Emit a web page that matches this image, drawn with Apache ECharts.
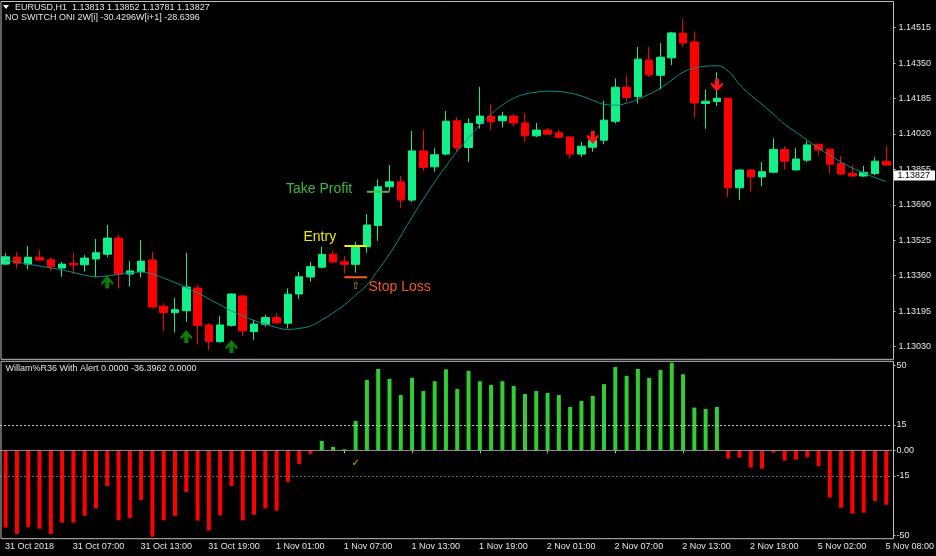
<!DOCTYPE html>
<html>
<head>
<meta charset="utf-8">
<script src="https://cdn.jsdelivr.net/npm/echarts@6/dist/echarts.min.js"></script>
<style>
html, body { margin: 0; padding: 0; background: #000; }
#chart { width: 936px; height: 556px; }
</style>
</head>
<body>
<div id="chart"></div>
<script>
// time axis: hourly bars, weekend gap between 2 Nov and 5 Nov
var days = [['31 Oct', 1, 23], ['1 Nov', 0, 23], ['2 Nov', 0, 23], ['5 Nov', 1, 8]];
var times = [];
days.forEach(function (d) {
    for (var h = d[1]; h <= d[2]; h++) {
        times.push(d[0] + ' ' + (h < 10 ? '0' + h : h) + ':00');
    }
});

var opens = [1.13414, 1.13446, 1.13414, 1.13446, 1.13434, 1.13396, 1.13418, 1.13411, 1.13438, 1.13460,
    1.13535, 1.13368, 1.13379, 1.13433, 1.13218, 1.13188, 1.13197, 1.13303, 1.13131, 1.13053,
    1.13129, 1.13266, 1.13100, 1.13134, 1.13165, 1.13139, 1.13275, 1.13354, 1.13400, 1.13460,
    1.13425, 1.13413, 1.13495, 1.13594, 1.13774, 1.13797, 1.13712, 1.13941, 1.13867, 1.13926,
    1.14081, 1.13957, 1.14069, 1.14103, 1.14081, 1.14103, 1.14071, 1.14011, 1.14038, 1.14025,
    1.14006, 1.13926, 1.13958, 1.13991, 1.14079, 1.14237, 1.14194, 1.14364, 1.14293, 1.14374,
    1.14489, 1.14448, 1.14162, 1.14171, 1.14186, 1.13769, 1.13852, 1.13820, 1.13842, 1.13948,
    1.13852, 1.13898, 1.13972, 1.13949, 1.13883, 1.13836, 1.13824, 1.13836, 1.13893];
var closes = [1.13448, 1.13418, 1.13446, 1.13433, 1.13402, 1.13414, 1.13411, 1.13442, 1.13467, 1.13535,
    1.13368, 1.13382, 1.13428, 1.13214, 1.13188, 1.13202, 1.13307, 1.13129, 1.13053, 1.13131,
    1.13275, 1.13104, 1.13135, 1.13165, 1.13141, 1.13274, 1.13355, 1.13402, 1.13459, 1.13424,
    1.13413, 1.13495, 1.13596, 1.13774, 1.13797, 1.13712, 1.13941, 1.13864, 1.13923, 1.14079,
    1.13955, 1.14069, 1.14103, 1.14076, 1.14103, 1.14071, 1.14011, 1.14038, 1.14019, 1.14004,
    1.13926, 1.13963, 1.13991, 1.14084, 1.14237, 1.14190, 1.14368, 1.14295, 1.14377, 1.14490,
    1.14443, 1.14164, 1.14172, 1.14186, 1.13769, 1.13852, 1.13820, 1.13844, 1.13948, 1.13893,
    1.13903, 1.13969, 1.13945, 1.13879, 1.13833, 1.13824, 1.13841, 1.13893, 1.13875];
var lows = [1.13410, 1.13393, 1.13390, 1.13428, 1.13382, 1.13355, 1.13368, 1.13379, 1.13353, 1.13446,
    1.13300, 1.13309, 1.13351, 1.13208, 1.13104, 1.13095, 1.13145, 1.13042, 1.13015, 1.13048,
    1.13123, 1.13080, 1.13061, 1.13123, 1.13135, 1.13115, 1.13252, 1.13332, 1.13394, 1.13418,
    1.13371, 1.13374, 1.13467, 1.13523, 1.13754, 1.13676, 1.13703, 1.13848, 1.13844, 1.13920,
    1.13937, 1.13890, 1.14045, 1.14038, 1.14050, 1.14056, 1.13983, 1.14006, 1.14014, 1.13999,
    1.13906, 1.13913, 1.13937, 1.13972, 1.14069, 1.14169, 1.14162, 1.14285, 1.14227, 1.14340,
    1.14425, 1.14097, 1.14044, 1.14149, 1.13725, 1.13712, 1.13751, 1.13777, 1.13836, 1.13855,
    1.13852, 1.13889, 1.13921, 1.13836, 1.13828, 1.13820, 1.13820, 1.13828, 1.13875];
var highs = [1.13466, 1.13469, 1.13498, 1.13480, 1.13446, 1.13425, 1.13467, 1.13456, 1.13531, 1.13596,
    1.13549, 1.13428, 1.13526, 1.13472, 1.13232, 1.13256, 1.13467, 1.13317, 1.13139, 1.13173,
    1.13278, 1.13270, 1.13154, 1.13177, 1.13185, 1.13301, 1.13379, 1.13425, 1.13495, 1.13476,
    1.13452, 1.13518, 1.13647, 1.13808, 1.13875, 1.13824, 1.14034, 1.14038, 1.13955, 1.14127,
    1.14099, 1.14092, 1.14239, 1.14158, 1.14123, 1.14112, 1.14118, 1.14071, 1.14048, 1.14038,
    1.14010, 1.13983, 1.14019, 1.14174, 1.14278, 1.14293, 1.14425, 1.14425, 1.14443, 1.14495,
    1.14554, 1.14498, 1.14227, 1.14307, 1.14186, 1.13855, 1.13855, 1.13889, 1.14000, 1.13963,
    1.13954, 1.13988, 1.13972, 1.13949, 1.13917, 1.13875, 1.13871, 1.13913, 1.13963];

// smoothed moving average (teal line)
var maValues = [1.13433, 1.13424, 1.13414, 1.13405, 1.13396, 1.13387, 1.13375, 1.13363, 1.13355, 1.13359,
    1.13366, 1.13373, 1.13377, 1.13368, 1.13349, 1.13328, 1.13305, 1.13280, 1.13252, 1.13224,
    1.13196, 1.13173, 1.13152, 1.13135, 1.13119, 1.13110, 1.13115, 1.13126, 1.13154, 1.13187,
    1.13224, 1.13270, 1.13317, 1.13387, 1.13461, 1.13545, 1.13633, 1.13717, 1.13796, 1.13870,
    1.13940, 1.14000, 1.14061, 1.14112, 1.14154, 1.14186, 1.14205, 1.14214, 1.14219, 1.14217,
    1.14210, 1.14196, 1.14177, 1.14158, 1.14154, 1.14163, 1.14182, 1.14205, 1.14233, 1.14270,
    1.14307, 1.14326, 1.14335, 1.14337, 1.14312, 1.14251, 1.14200, 1.14158, 1.14112, 1.14065,
    1.14028, 1.13991, 1.13954, 1.13921, 1.13889, 1.13861, 1.13838, 1.13817, 1.13798];

// Williams %R histogram
var wprValues = [-45.5, -49.2, -45.1, -46.1, -49.2, -42.6, -42.6, -38.5, -34.2, -21.0,
    -41.2, -39.8, -29.2, -50.8, -41.2, -38.6, -24.5, -41.4, -47.2, -38.3,
    -21.0, -41.2, -37.9, -34.2, -35.5, -18.6, -8.2, -2.1, 5.5, 2.0,
    0.6, 17.3, 41.3, 47.8, 42.0, 32.5, 42.6, 34.8, 40.6, 47.6,
    36.0, 46.7, 40.6, 38.4, 40.6, 37.8, 33.1, 34.8, 33.7, 32.5,
    25.5, 29.0, 31.9, 38.9, 49.0, 43.8, 47.8, 42.6, 47.2, 51.5,
    44.7, 25.1, 24.3, 25.5, -4.9, -4.3, -10.2, -10.8, -1.4, -6.1,
    -5.5, -4.1, -9.4, -27.8, -33.8, -37.3, -36.7, -29.8, -32.0];

var upArrows = [[9, 1.13331], [16, 1.13077], [20, 1.13031]];
var downArrows = [[52, 1.14003], [63, 1.14247]];
var entryLine = [[30, 1.13498], [32, 1.13498]];
var takeProfitLine = [[32, 1.13751], [34, 1.13751]];
var stopLossLine = [[30, 1.13353], [32, 1.13353]];
var entryMark = [[31, 1.13310]];
var alertMark = [[31, -7.7]];

var priceTicks = [1.13030, 1.13195, 1.13360, 1.13525, 1.13690, 1.13855, 1.14020, 1.14185, 1.14350, 1.14515];
var wprTicks = [-50, -15, 0, 15, 50];
var lastPrice = 1.13827;

var FONT = '"Liberation Sans", Arial, sans-serif';
var BULL = '#12f08a', BEAR = '#ff0000', FRAME = '#c0c0c0', TXT = '#e6e6e6';

var candles = opens.map(function (o, i) { return [o, closes[i], lows[i], highs[i]]; });

var chart = echarts.init(document.getElementById('chart'));

var option = {
    backgroundColor: '#000',
    animation: false,
    grid: [
        {left: -3.2, right: 44.1, top: 2, height: 357.3},
        {left: -3.2, right: 44.1, top: 361.5, height: 177.2}
    ],
    xAxis: [
        {
            type: 'category', gridIndex: 0, data: times,
            axisLine: {show: false}, axisTick: {show: false}, axisLabel: {show: false}
        },
        {
            type: 'category', gridIndex: 1, data: times,
            axisLine: {show: false},
            axisTick: {show: true, interval: 5, alignWithLabel: true, length: 3, lineStyle: {color: FRAME}},
            axisLabel: {show: false, interval: 5}
        }
    ],
    yAxis: [
        {
            type: 'value', gridIndex: 0, position: 'right', offset: 1.6,
            min: 1.12971, max: 1.14634, scale: true,
            splitLine: {show: false}, axisLine: {show: false},
            axisTick: {show: true, length: 2, customValues: priceTicks, lineStyle: {color: FRAME}},
            axisLabel: {
                customValues: priceTicks, margin: 5, color: TXT, fontSize: 9, fontFamily: FONT,
                formatter: function (v) { return v.toFixed(5); }
            }
        },
        {
            type: 'value', gridIndex: 1, position: 'right', offset: 1.6,
            min: -52, max: 52.2,
            splitLine: {show: false}, axisLine: {show: false},
            axisTick: {show: true, length: 2, customValues: wprTicks, lineStyle: {color: FRAME}},
            axisLabel: {
                customValues: wprTicks, margin: 3, color: TXT, fontSize: 9, fontFamily: FONT,
                formatter: function (v) { return v === 0 ? '0.00' : String(v); }
            }
        }
    ],
    series: [
        {
            type: 'candlestick', xAxisIndex: 0, yAxisIndex: 0,
            data: candles, barWidth: 8,
            itemStyle: {color: BULL, color0: BEAR, borderColor: BULL, borderColor0: BEAR, borderWidth: 1}
        },
        {
            type: 'line', xAxisIndex: 0, yAxisIndex: 0, data: maValues,
            smooth: true, symbol: 'none', z: 3,
            lineStyle: {color: '#0d8f8f', width: 1}
        },
        {
            type: 'scatter', xAxisIndex: 0, yAxisIndex: 0, data: upArrows,
            symbol: 'path://M6,0 L12,7 L12,9.5 L8,6.5 L8,13 L4,13 L4,6.5 L0,9.5 L0,7 Z',
            symbolSize: [12, 13], itemStyle: {color: '#0b7d0b', opacity: 1}, z: 4
        },
        {
            type: 'scatter', xAxisIndex: 0, yAxisIndex: 0, data: downArrows,
            symbol: 'path://M6,13 L12,6 L12,3.5 L8,6.5 L8,0 L4,0 L4,6.5 L0,3.5 L0,6 Z',
            symbolSize: [12, 13], itemStyle: {color: '#ff1414', opacity: 1}, z: 4
        },
        {
            type: 'line', xAxisIndex: 0, yAxisIndex: 0, data: entryLine,
            symbol: 'none', lineStyle: {color: '#f2f200', width: 2}, z: 5
        },
        {
            type: 'line', xAxisIndex: 0, yAxisIndex: 0, data: takeProfitLine,
            symbol: 'none', lineStyle: {color: '#56b84a', width: 2}, z: 5
        },
        {
            type: 'line', xAxisIndex: 0, yAxisIndex: 0, data: stopLossLine,
            symbol: 'none', lineStyle: {color: '#ff5a1e', width: 2}, z: 5
        },
        {
            type: 'scatter', xAxisIndex: 0, yAxisIndex: 0, data: entryMark,
            symbolSize: 1, itemStyle: {color: 'rgba(0,0,0,0)'},
            label: {show: true, position: 'inside', formatter: '\u21e7', color: '#e8c800',
                fontSize: 10, fontFamily: '"DejaVu Sans"'}
        },
        {
            type: 'bar', xAxisIndex: 1, yAxisIndex: 1, data: wprValues, barWidth: 4,
            itemStyle: {
                color: function (p) { return p.value >= 0 ? '#32cd32' : '#ff0000'; }
            },
            markLine: {
                silent: true, symbol: 'none', label: {show: false},
                data: [
                    {yAxis: 15, lineStyle: {type: [2, 2], color: '#c8c8c8', width: 1}},
                    {yAxis: 0, lineStyle: {type: 'solid', color: '#8c8c8c', width: 1}},
                    {yAxis: -15, lineStyle: {type: [2, 2], color: '#6a6a6a', width: 1}}
                ]
            }
        },
        {
            type: 'scatter', xAxisIndex: 1, yAxisIndex: 1, data: alertMark,
            symbolSize: 1, itemStyle: {color: 'rgba(0,0,0,0)'},
            label: {show: true, position: 'inside', formatter: '\u2713', color: '#e8e800',
                fontSize: 10, fontFamily: '"DejaVu Sans"'}
        }
    ]
};

chart.setOption(option);

// frames, headers, annotations, last price tag, time labels
var priceY = chart.convertToPixel({yAxisIndex: 0}, lastPrice);
var graphics = [
    {type: 'rect', shape: {x: 1, y: 1.5, width: 892.5, height: 357.8}, style: {fill: null, stroke: FRAME, lineWidth: 1}, z: 100},
    {type: 'rect', shape: {x: 1, y: 361.3, width: 892.5, height: 177.4}, style: {fill: null, stroke: FRAME, lineWidth: 1}, z: 100},
    {type: 'polygon', shape: {points: [[3, 5], [9, 5], [6, 9]]}, style: {fill: '#ffffff'}, z: 100},
    {type: 'text', x: 15, y: 7.5, style: {text: 'EURUSD,H1  1.13813 1.13852 1.13781 1.13827', fill: TXT, font: '9px ' + FONT, verticalAlign: 'middle'}, z: 100},
    {type: 'text', x: 5, y: 17.5, style: {text: 'NO SWITCH ONI 2W[i] -30.4296W[i+1] -28.6396', fill: TXT, font: '9px ' + FONT, verticalAlign: 'middle'}, z: 100},
    {type: 'text', x: 5.5, y: 369, style: {text: 'Willam%R36 With Alert 0.0000 -36.3962 0.0000', fill: TXT, font: '9px ' + FONT, verticalAlign: 'middle'}, z: 100},
    {type: 'text', x: 286, y: 189.5, style: {text: 'Take Profit', fill: '#3cb83c', font: '14px ' + FONT, verticalAlign: 'middle'}, z: 100},
    {type: 'text', x: 303.5, y: 237, style: {text: 'Entry', fill: '#ecec00', font: '14px ' + FONT, verticalAlign: 'middle'}, z: 100},
    {type: 'text', x: 368.5, y: 287, style: {text: 'Stop Loss', fill: '#f25a1e', font: '14px ' + FONT, verticalAlign: 'middle'}, z: 100},
    {type: 'rect', shape: {x: 894, y: priceY - 5, width: 41, height: 10}, style: {fill: '#ffffff'}, z: 101},
    {type: 'text', x: 897.5, y: priceY, style: {text: lastPrice.toFixed(5), fill: '#000000', font: '9px ' + FONT, verticalAlign: 'middle'}, z: 102}
];
for (var i = 0; i < times.length; i += 6) {
    var tx = chart.convertToPixel({xAxisIndex: 1}, i);
    graphics.push({
        type: 'text', x: tx - 0.7, y: 547,
        style: {text: i === 0 ? '31 Oct 2018' : times[i], fill: TXT, font: '9px ' + FONT, verticalAlign: 'middle'},
        z: 100
    });
}
chart.setOption({graphic: graphics});
</script>
</body>
</html>
